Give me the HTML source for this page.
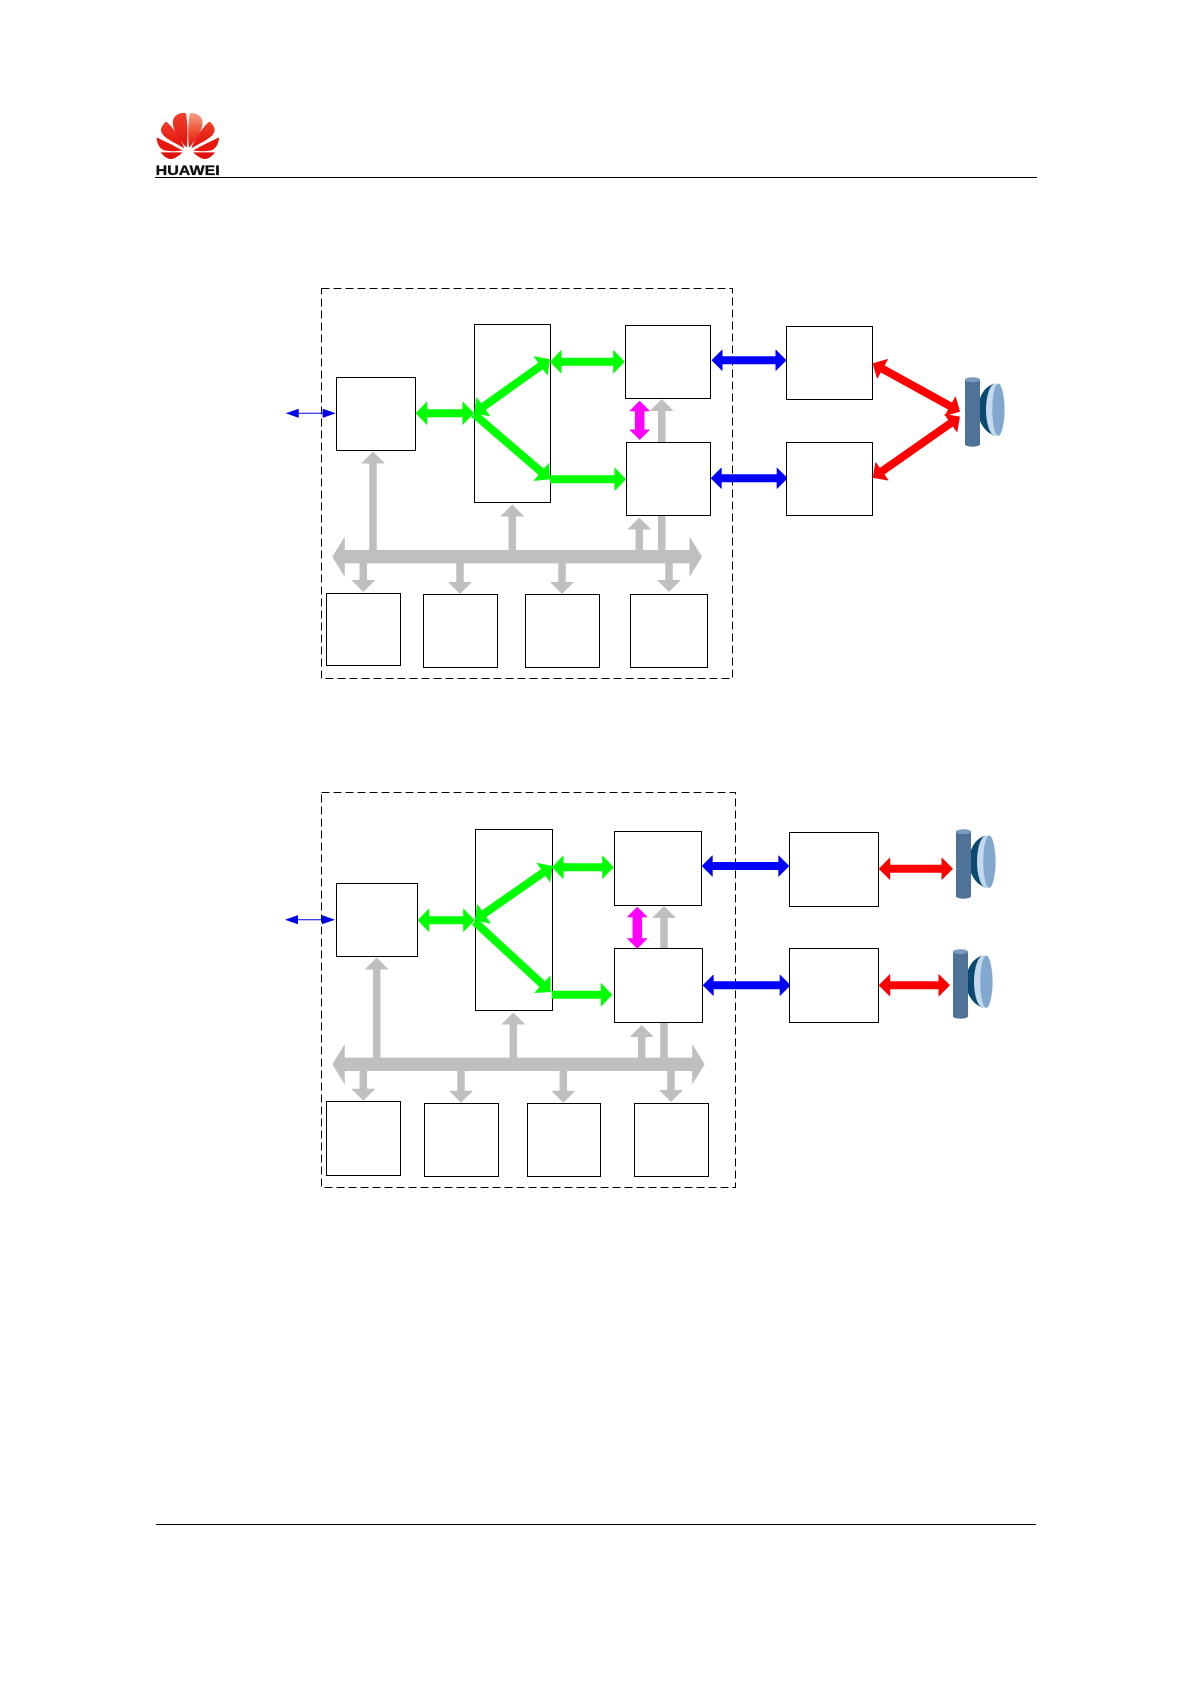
<!DOCTYPE html>
<html><head><meta charset="utf-8"><style>html,body{margin:0;padding:0;background:#fff}svg{display:block}</style></head>
<body>
<svg xmlns="http://www.w3.org/2000/svg" width="1190" height="1684" viewBox="0 0 1190 1684">
<defs>
<linearGradient id="r1" x1="0" y1="0" x2="0" y2="1"><stop offset="0" stop-color="#f2402a"/><stop offset="1" stop-color="#e0100c"/></linearGradient>
<linearGradient id="r2" x1="0" y1="0" x2="0" y2="1"><stop offset="0" stop-color="#f7a58c"/><stop offset=".55" stop-color="#ef4a30"/><stop offset="1" stop-color="#e3140e"/></linearGradient>
<marker id="g" markerUnits="userSpaceOnUse" markerWidth="1" markerHeight="1" overflow="visible" orient="auto-start-reverse"><path d="M-1.5,-11.5L-1,-11.5L10,0L-1,11.5L-1.5,11.5Z" fill="#0f0"/></marker>
<marker id="b" markerUnits="userSpaceOnUse" markerWidth="1" markerHeight="1" overflow="visible" orient="auto-start-reverse"><path d="M-1.5,-10.5L-1,-10.5L9.5,0L-1,10.5L-1.5,10.5Z" fill="#00f"/></marker>
<marker id="r" markerUnits="userSpaceOnUse" markerWidth="1" markerHeight="1" overflow="visible" orient="auto-start-reverse"><path d="M-1.5,-11L-1,-11L10,0L-1,11L-1.5,11Z" fill="#f00"/></marker>
<marker id="m" markerUnits="userSpaceOnUse" markerWidth="1" markerHeight="1" overflow="visible" orient="auto-start-reverse"><path d="M-1,-10L-.5,-10L9.5,0L-.5,10L-1,10Z" fill="#f0f"/></marker>
<marker id="t" markerUnits="userSpaceOnUse" markerWidth="1" markerHeight="1" overflow="visible" orient="auto-start-reverse"><path d="M0,-4.6L13,0L0,4.6Z" fill="#0000e6"/></marker>
<marker id="y" markerUnits="userSpaceOnUse" markerWidth="1" markerHeight="1" overflow="visible" orient="auto-start-reverse"><path d="M-1.5,-11.5L-1,-11.5L10.5,0L-1,11.5L-1.5,11.5Z" fill="#bfbfbf"/></marker>
<marker id="u" markerUnits="userSpaceOnUse" markerWidth="1" markerHeight="1" overflow="visible" orient="auto-start-reverse"><path d="M-.5,-19.5L0,-19.5L12,0L0,19.5L-.5,19.5Z" fill="#bfbfbf"/></marker>
<g id="lens">
<path d="M30,6.2C18,9 13,22 13,32.4C13,45 20,55 30,58.6Z" fill="#0a4a6e"/>
<ellipse cx="30.5" cy="32.4" rx="9.5" ry="26.2" fill="#c4d8ee"/>
<ellipse cx="33.3" cy="32.4" rx="6" ry="26.2" fill="#82a8cd"/>
<rect x="0" y="2" width="15" height="65.4" fill="#4f7299"/>
<ellipse cx="7.5" cy="67" rx="7.5" ry="2.4" fill="#4f7299"/>
<ellipse cx="7.5" cy="2.4" rx="7.5" ry="2.4" fill="#7b9cbf"/>
</g>
</defs>

<!-- header / footer -->
<g transform="translate(140 100) scale(.3333)">
<path d="M140,143C108,110 92,75 101,55C108,42 128,36 138,40C143,70 144,110 140,143Z" fill="url(#r1)"/>
<path d="M147,143C143,110 144,70 149,40C160,36 180,43 186,58C194,80 172,115 147,143Z" fill="url(#r2)"/>
<path d="M133,145C100,125 62,112 63,88C65,78 72,70 78,65C95,75 125,120 133,145Z" fill="url(#r1)"/>
<path d="M154,145C187,125 225,112 224,88C222,78 215,70 209,65C192,75 162,120 154,145Z" fill="url(#r1)"/>
<path d="M128,152C100,135 70,122 50,112C50,130 60,150 78,152C95,155 115,153 128,152Z" fill="#e8180f"/>
<path d="M159,152C187,135 217,122 237,112C237,130 227,150 209,152C192,155 172,153 159,152Z" fill="#e8180f"/>
<path d="M62,157L127,157C115,170 100,178 90,177C80,175 70,168 62,157Z" fill="#e0120c"/>
<path d="M225,157L160,157C172,170 187,178 197,177C207,175 217,168 225,157Z" fill="#e0120c"/>
</g>
<text x="155.7" y="175" font-family="'Liberation Sans',sans-serif" font-weight="bold" font-size="14" textLength="64" lengthAdjust="spacingAndGlyphs" fill="#111" stroke="#111" stroke-width=".35">HUAWEI</text>
<line x1="155" y1="177.5" x2="1037" y2="177.5" stroke="#000"/>
<line x1="156" y1="1524.5" x2="1036" y2="1524.5" stroke="#000"/>

<g fill="none">
<!-- DIAGRAM 1 -->
<g stroke="#bfbfbf" stroke-width="7.5">
<line x1="373" y1="462" x2="373" y2="552" marker-start="url(#y)"/>
<line x1="512.3" y1="515" x2="512.3" y2="552" marker-start="url(#y)"/>
<line x1="639.3" y1="528" x2="639.3" y2="552" marker-start="url(#y)"/>
<line x1="661.7" y1="409.5" x2="661.7" y2="552" marker-start="url(#y)"/>
<line x1="363.3" y1="556" x2="363.3" y2="581.5" marker-end="url(#y)"/>
<line x1="460" y1="556" x2="460" y2="583.5" marker-end="url(#y)"/>
<line x1="562" y1="556" x2="562" y2="583.5" marker-end="url(#y)"/>
<line x1="669" y1="556" x2="669" y2="581.5" marker-end="url(#y)"/>
</g>
<line x1="344.3" y1="556.7" x2="690" y2="556.7" stroke="#bfbfbf" stroke-width="13.3" marker-start="url(#u)" marker-end="url(#u)"/>

<rect x="321.5" y="288.5" width="411" height="390" stroke="#000" stroke-dasharray="8 4"/>

<line x1="721" y1="360.3" x2="777" y2="360.3" stroke="#00f" stroke-width="8" marker-start="url(#b)" marker-end="url(#b)"/>
<line x1="720.2" y1="478.3" x2="778.2" y2="478.3" stroke="#00f" stroke-width="8" marker-start="url(#b)" marker-end="url(#b)"/>

<g fill="#fff" stroke="#000">
<rect x="336.5" y="377.5" width="79" height="73"/>
<rect x="474.5" y="324.5" width="76" height="178"/>
<rect x="625.5" y="325.5" width="85" height="73"/>
<rect x="626.5" y="442.5" width="84" height="73"/>
<rect x="326.5" y="593.5" width="74" height="72"/>
<rect x="423.5" y="594.5" width="74" height="73"/>
<rect x="525.5" y="594.5" width="74" height="73"/>
<rect x="630.5" y="594.5" width="77" height="73"/>
<rect x="786.5" y="326.5" width="86" height="73"/>
<rect x="786.5" y="442.5" width="86" height="73"/>
</g>

<line x1="298.7" y1="413.3" x2="322.7" y2="413.3" stroke="#0000e6" stroke-width="1" marker-start="url(#t)" marker-end="url(#t)"/>
<g stroke="#0f0" stroke-width="8">
<line x1="425.7" y1="413.3" x2="464" y2="413.3" marker-start="url(#g)" marker-end="url(#g)"/>
<line x1="560" y1="361.7" x2="614.7" y2="361.7" marker-start="url(#g)" marker-end="url(#g)"/>
<line x1="550" y1="479.3" x2="616" y2="479.3" marker-end="url(#g)"/>
<line x1="482.2" y1="407.5" x2="541.8" y2="365.1" marker-start="url(#g)" marker-end="url(#g)"/>
<line x1="474" y1="414" x2="542.4" y2="472.8" marker-end="url(#g)"/>
</g>
<line x1="639.7" y1="410.2" x2="639.7" y2="430.5" stroke="#f0f" stroke-width="9.5" marker-start="url(#m)" marker-end="url(#m)"/>
<g stroke="#f00" stroke-width="8">
<line x1="881.4" y1="368.2" x2="951.3" y2="406.8" marker-start="url(#r)" marker-end="url(#r)"/>
<line x1="880.9" y1="472" x2="951.8" y2="422.4" marker-start="url(#r)" marker-end="url(#r)"/>
</g>
<use href="#lens" x="965" y="377.3"/>

<!-- DIAGRAM 2 -->
<g stroke="#bfbfbf" stroke-width="7.5">
<line x1="376.7" y1="968" x2="376.7" y2="1060" marker-start="url(#y)"/>
<line x1="513.3" y1="1023" x2="513.3" y2="1060" marker-start="url(#y)"/>
<line x1="641.7" y1="1035.5" x2="641.7" y2="1060" marker-start="url(#y)"/>
<line x1="664" y1="916.5" x2="664" y2="1060" marker-start="url(#y)"/>
<line x1="363.3" y1="1064" x2="363.3" y2="1090.2" marker-end="url(#y)"/>
<line x1="461" y1="1064" x2="461" y2="1092.2" marker-end="url(#y)"/>
<line x1="563.3" y1="1064" x2="563.3" y2="1092.2" marker-end="url(#y)"/>
<line x1="671" y1="1064" x2="671" y2="1091.5" marker-end="url(#y)"/>
</g>
<line x1="344.3" y1="1064.3" x2="692.7" y2="1064.3" stroke="#bfbfbf" stroke-width="13.3" marker-start="url(#u)" marker-end="url(#u)"/>

<rect x="321.5" y="792.5" width="414" height="395" stroke="#000" stroke-dasharray="8 4"/>

<line x1="711.2" y1="866" x2="779.8" y2="866" stroke="#00f" stroke-width="8" marker-start="url(#b)" marker-end="url(#b)"/>
<line x1="712.2" y1="985.3" x2="781.2" y2="985.3" stroke="#00f" stroke-width="8" marker-start="url(#b)" marker-end="url(#b)"/>

<g fill="#fff" stroke="#000">
<rect x="336.5" y="883.5" width="81" height="73"/>
<rect x="475.5" y="829.5" width="77" height="181"/>
<rect x="614.5" y="831.5" width="87" height="74"/>
<rect x="614.5" y="948.5" width="88" height="74"/>
<rect x="326.5" y="1101.5" width="74" height="74"/>
<rect x="424.5" y="1103.5" width="74" height="73"/>
<rect x="527.5" y="1103.5" width="73" height="73"/>
<rect x="634.5" y="1103.5" width="74" height="73"/>
<rect x="789.5" y="832.5" width="89" height="74"/>
<rect x="789.5" y="948.5" width="89" height="74"/>
</g>

<line x1="298" y1="919.7" x2="322" y2="919.7" stroke="#0000e6" stroke-width="1" marker-start="url(#t)" marker-end="url(#t)"/>
<g stroke="#0f0" stroke-width="8">
<line x1="427.7" y1="920.3" x2="464.7" y2="920.3" marker-start="url(#g)" marker-end="url(#g)"/>
<line x1="562" y1="867.3" x2="603.7" y2="867.3" marker-start="url(#g)" marker-end="url(#g)"/>
<line x1="551.7" y1="994.7" x2="602.3" y2="994.7" marker-end="url(#g)"/>
<line x1="482.9" y1="914.6" x2="544.5" y2="871.7" marker-start="url(#g)" marker-end="url(#g)"/>
<line x1="474.7" y1="921.7" x2="543.4" y2="985.2" marker-end="url(#g)"/>
</g>
<line x1="637.3" y1="916.2" x2="637.3" y2="939.2" stroke="#f0f" stroke-width="9.5" marker-start="url(#m)" marker-end="url(#m)"/>
<g stroke="#f00" stroke-width="8">
<line x1="888.7" y1="868.7" x2="943" y2="868.7" marker-start="url(#r)" marker-end="url(#r)"/>
<line x1="888.7" y1="985.3" x2="940" y2="985.3" marker-start="url(#r)" marker-end="url(#r)"/>
</g>
<use href="#lens" x="956" y="829.3"/>
<use href="#lens" x="953" y="949.3"/>
</g>
</svg>
</body></html>
